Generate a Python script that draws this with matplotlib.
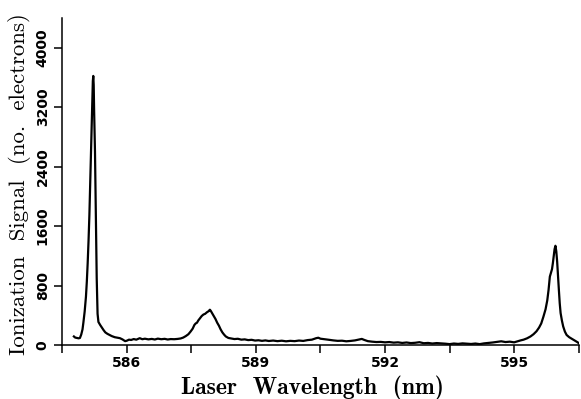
import matplotlib
matplotlib.use("Agg")
import matplotlib.pyplot as plt
from matplotlib.ticker import FixedLocator, FixedFormatter

wavelength = [
    584.77, 584.80, 584.84, 584.88, 584.91, 584.94, 584.97, 584.99, 585.02, 585.05,
    585.07, 585.09, 585.11, 585.13, 585.15, 585.17, 585.19, 585.21, 585.22, 585.23,
    585.24, 585.26, 585.28, 585.30, 585.32, 585.34, 585.38, 585.42, 585.46, 585.50,
    585.55, 585.60, 585.65, 585.72, 585.78, 585.84, 585.90, 585.96, 586.00, 586.05,
    586.10, 586.16, 586.22, 586.30, 586.36, 586.42, 586.50, 586.58, 586.65, 586.72,
    586.80, 586.88, 586.95, 587.02, 587.10, 587.18, 587.25, 587.31, 587.37, 587.43,
    587.48, 587.53, 587.57, 587.60, 587.63, 587.66, 587.70, 587.74, 587.78, 587.82,
    587.86, 587.90, 587.93, 587.95, 587.98, 588.02, 588.06, 588.10, 588.14, 588.18,
    588.22, 588.26, 588.30, 588.36, 588.42, 588.50, 588.58, 588.66, 588.74, 588.82,
    588.90, 588.98, 589.06, 589.14, 589.22, 589.30, 589.40, 589.50, 589.60, 589.70,
    589.80, 589.90, 590.00, 590.10, 590.20, 590.30, 590.40, 590.45, 590.50, 590.60,
    590.70, 590.80, 590.90, 591.00, 591.10, 591.20, 591.30, 591.40, 591.46, 591.52,
    591.60, 591.70, 591.80, 591.90, 592.00, 592.10, 592.20, 592.30, 592.40, 592.50,
    592.60, 592.70, 592.80, 592.90, 593.00, 593.10, 593.20, 593.30, 593.40, 593.50,
    593.60, 593.70, 593.80, 593.90, 594.00, 594.10, 594.20, 594.30, 594.40, 594.50,
    594.60, 594.70, 594.80, 594.90, 595.00, 595.08, 595.15, 595.22, 595.30, 595.38,
    595.45, 595.52, 595.58, 595.63, 595.68, 595.73, 595.77, 595.80, 595.83, 595.86,
    595.88, 595.90, 595.92, 595.94, 595.96, 595.98, 596.00, 596.02, 596.04, 596.06,
    596.08, 596.11, 596.14, 596.18, 596.22, 596.28, 596.35, 596.42, 596.48, 596.53,
]
signal = [
    115, 100, 95, 90, 95, 140, 210, 300, 450, 650,
    850, 1100, 1400, 1750, 2200, 2700, 3150, 3550, 3620, 3500,
    3150, 2600, 1800, 900, 420, 310, 270, 235, 200, 170,
    150, 135, 120, 105, 98, 92, 75, 52, 58, 72,
    68, 80, 72, 92, 78, 85, 76, 82, 74, 86,
    78, 83, 74, 80, 78, 82, 88, 100, 120, 145,
    180, 220, 270, 290, 300, 330, 360, 390, 410, 420,
    440, 455, 475, 460, 430, 390, 350, 300, 260, 210,
    170, 140, 115, 95, 88, 80, 84, 72, 76, 66,
    70, 60, 64, 56, 62, 54, 60, 52, 58, 50,
    56, 52, 60, 55, 66, 72, 92, 98, 85, 78,
    70, 62, 56, 58, 50, 55, 62, 75, 82, 68,
    52, 45, 40, 42, 36, 40, 32, 36, 28, 34,
    26, 30, 38, 24, 28, 20, 26, 22, 18, 12,
    20, 15, 22, 18, 14, 20, 12, 22, 28, 34,
    42, 50, 40, 45, 36, 50, 62, 72, 90, 115,
    145, 185, 235, 290, 380, 480, 600, 740, 920, 980,
    1020, 1100, 1200, 1290, 1335, 1260, 1120, 920, 740, 560,
    430, 330, 250, 180, 135, 105, 80, 55, 35, 8,
]

x_ticks = [584.5, 586.0, 587.5, 589.0, 590.5, 592.0, 593.5, 595.0, 596.5]
x_tick_labels = ["", "586", "", "589", "", "592", "", "595", ""]
y_ticks = [0, 800, 1600, 2400, 3200, 4000]
y_tick_labels = ["0", "800", "1600", "2400", "3200", "4000"]

fig = plt.figure(figsize=(5.81, 3.99), dpi=100)
ax = fig.add_axes([0.1072, 0.1353, 0.996 - 0.1072, 0.955 - 0.1353])

ax.plot(wavelength, signal, color="black", lw=1.6)
ax.set_xlim(584.5, 596.5)
ax.set_ylim(0, 4400)

for s in ["top", "right"]:
    ax.spines[s].set_visible(False)
for s in ["left", "bottom"]:
    ax.spines[s].set_linewidth(1.1)

ax.xaxis.set_major_locator(FixedLocator(x_ticks))
ax.xaxis.set_major_formatter(FixedFormatter(x_tick_labels))
ax.yaxis.set_major_locator(FixedLocator(y_ticks))
ax.yaxis.set_major_formatter(FixedFormatter(y_tick_labels))
ax.tick_params(axis="both", direction="out", length=6, width=1.1, labelsize=10)
ax.tick_params(axis="x", pad=2)
ax.tick_params(axis="y", pad=3)
for lab in ax.get_yticklabels():
    lab.set_rotation(90)
    lab.set_va("center")
for lab in ax.get_xticklabels() + ax.get_yticklabels():
    lab.set_fontweight("bold")

fig.text(0.538, 1 - 394 / 399, "Laser  Wavelength  (nm)", family="cmb10",
         fontsize=17, ha="center", va="baseline")
fig.text(20 / 581, 1 - 184 / 399, "Ionization  Signal  (no.  electrons)",
         family="cmr10", fontsize=16.5, rotation=90, ha="center", va="center")

fig.savefig("out.png", dpi=100)
